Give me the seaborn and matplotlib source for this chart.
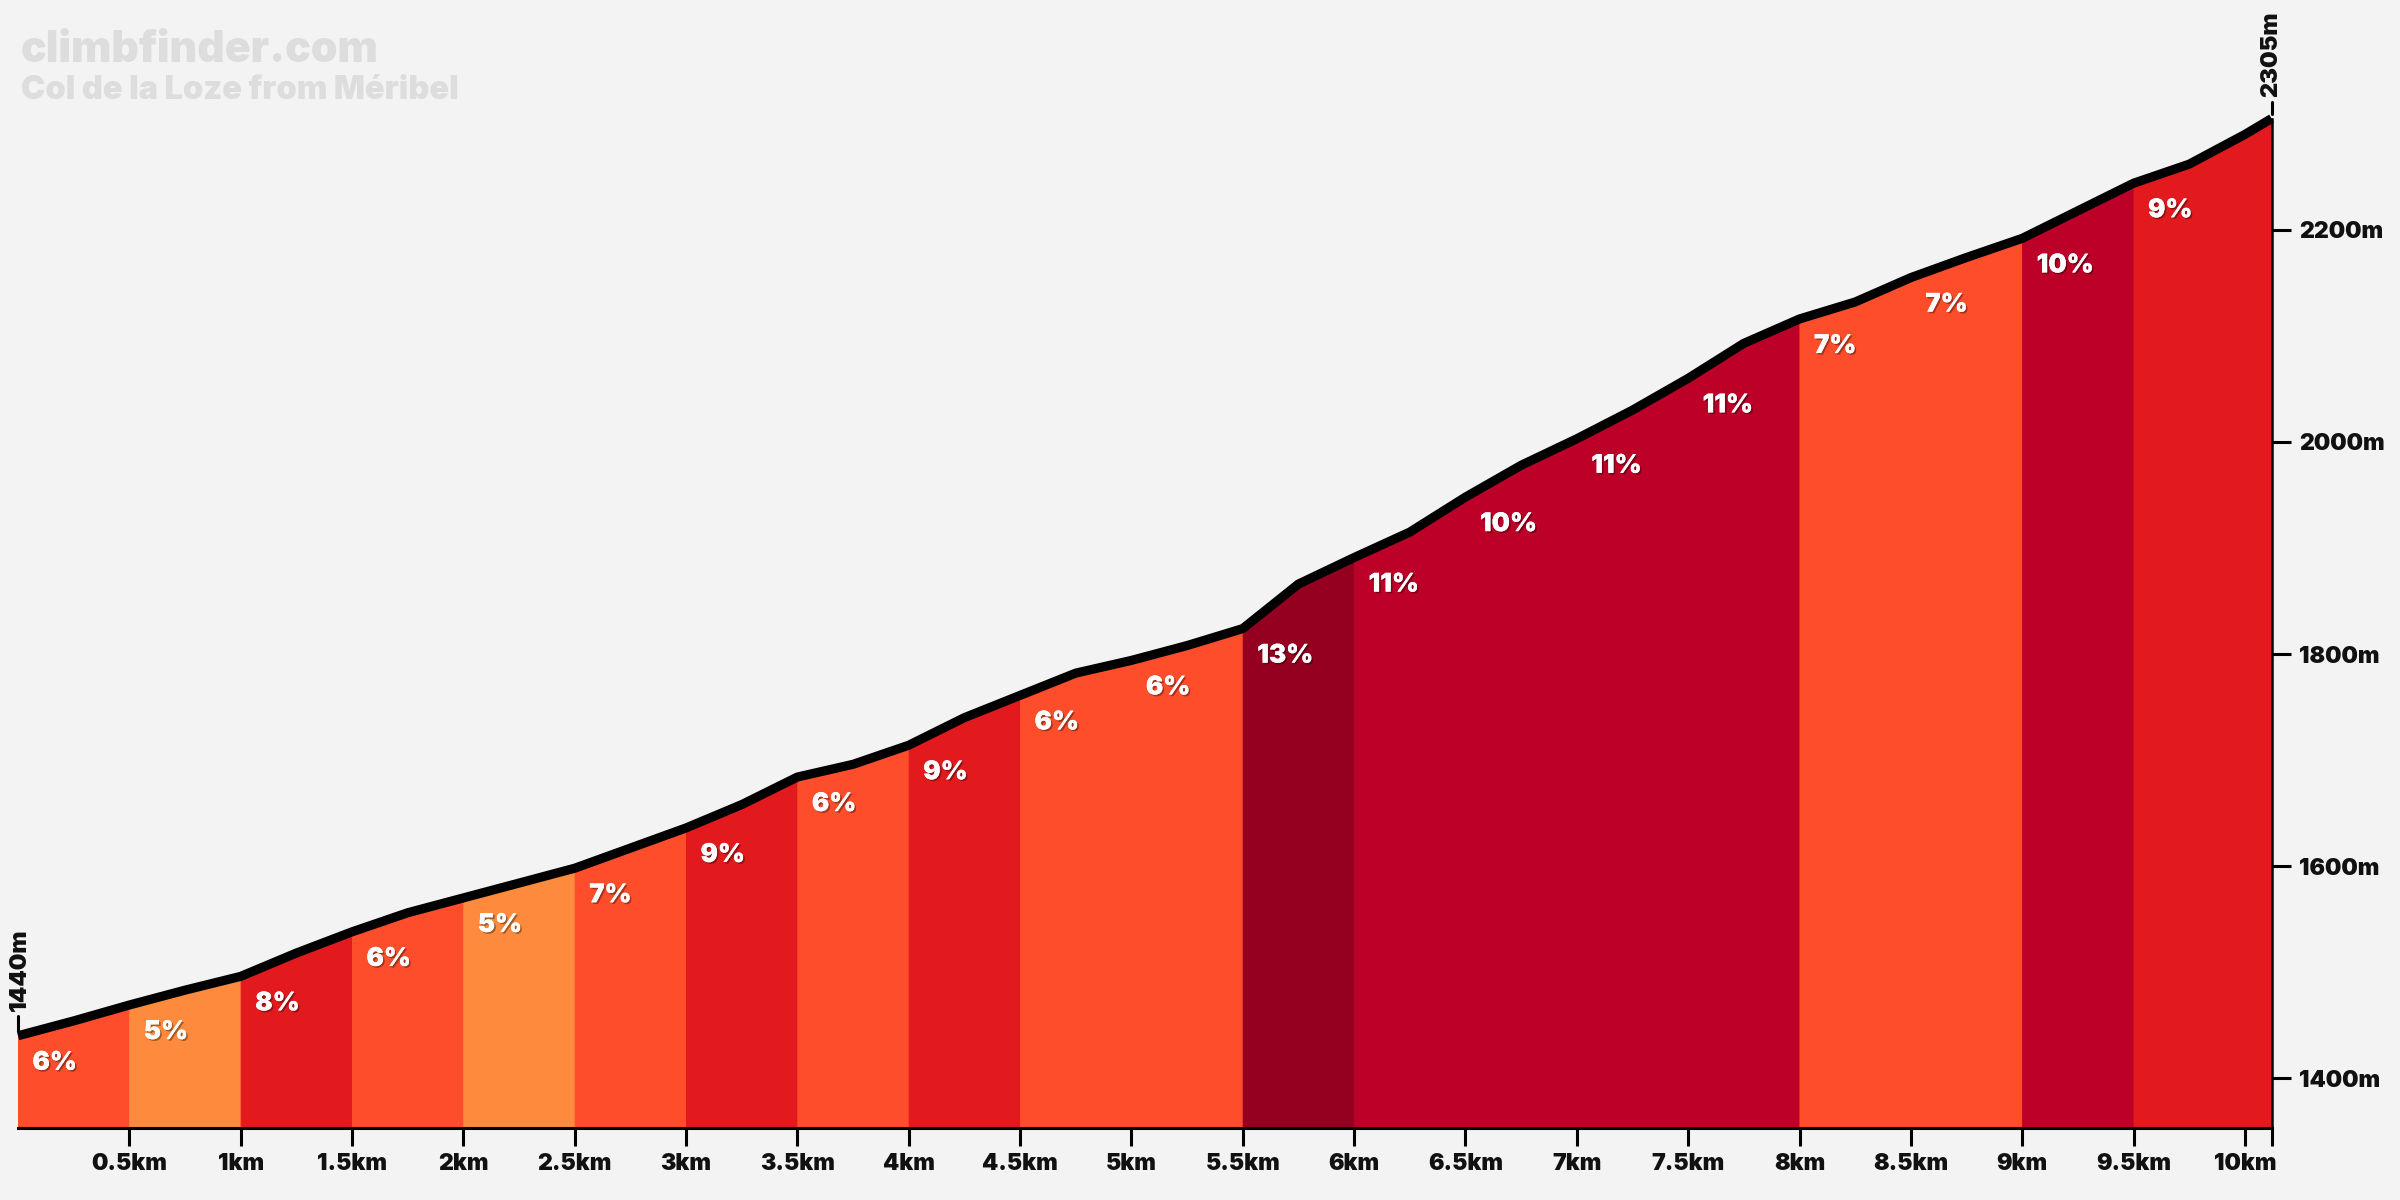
import numpy as np
import matplotlib
matplotlib.use("Agg")
import matplotlib.pyplot as plt
import matplotlib.patheffects as pe
import seaborn as sns

# Elevation profile (km, m)
distance_km = [0, 0.25, 0.5, 0.75, 1.0, 1.25, 1.5, 1.75, 2.0, 2.25, 2.5, 2.75,
               3.0, 3.25, 3.5, 3.75, 4.0, 4.25, 4.5, 4.75, 5.0, 5.25, 5.5, 5.75,
               6.0, 6.25, 6.5, 6.75, 7.0, 7.25, 7.5, 7.75, 8.0, 8.25, 8.5, 8.75,
               9.0, 9.25, 9.5, 9.75, 10.0, 10.12]
elevation_m = [1440, 1454, 1469, 1483, 1496, 1518, 1538, 1556, 1570, 1584, 1598, 1617,
               1636, 1658, 1684, 1696, 1714, 1740, 1761, 1782, 1794, 1808, 1824, 1866,
               1891, 1915, 1948, 1978, 2003, 2030, 2060, 2093, 2116, 2132, 2155, 2174,
               2192, 2218, 2244, 2262, 2290, 2305]

# Gradient of each 500 m stretch, as printed on the chart
seg_start_km = [0, 0.5, 1.0, 1.5, 2.0, 2.5, 3.0, 3.5, 4.0, 4.5,
                5.0, 5.5, 6.0, 6.5, 7.0, 7.5, 8.0, 8.5, 9.0, 9.5]
seg_end_km = seg_start_km[1:] + [10.12]
seg_grade = [6, 5, 8, 6, 5, 7, 9, 6, 9, 6, 6, 13, 11, 10, 11, 11, 7, 7, 10, 9]

x_ticks = [0.5, 1, 1.5, 2, 2.5, 3, 3.5, 4, 4.5, 5, 5.5, 6, 6.5, 7, 7.5, 8, 8.5, 9, 9.5, 10]
x_labels = ['0.5km', '1km', '1.5km', '2km', '2.5km', '3km', '3.5km', '4km', '4.5km', '5km',
            '5.5km', '6km', '6.5km', '7km', '7.5km', '8km', '8.5km', '9km', '9.5km', '10km']
y_ticks = [1400, 1600, 1800, 2000, 2200]
y_labels = ['1400m', '1600m', '1800m', '2000m', '2200m']

title = "climbfinder.com"
subtitle = "Col de la Loze from Méribel"


def grade_color(g):
    if g <= 5:
        return '#FE8B3D'
    if g <= 7:
        return '#FE4D2B'
    if g <= 9:
        return '#E21A1E'
    if g <= 12:
        return '#BC0027'
    return '#960020'


sns.set_theme(style="white")
plt.rcParams['font.family'] = ['Inter', 'Lato', 'DejaVu Sans']

bg = '#F3F3F3'
y_min, y_max = 1353, 2330
x_end = distance_km[-1]
wt = 'black'

fig = plt.figure(figsize=(12, 6), dpi=200, facecolor=bg)
ax = fig.add_axes([0.0075, 0.06, 0.939, 0.8633])
ax.set_facecolor(bg)

d = np.array(distance_km)
e = np.array(elevation_m)

# coloured stretches
for s, en, g in zip(seg_start_km, seg_end_km, seg_grade):
    m = (d >= s - 1e-9) & (d <= en + 1e-9)
    c = grade_color(g)
    ax.fill_between(d[m], y_min, e[m], color=c, edgecolor=c, linewidth=0.4, zorder=1)

# profile line
sns.lineplot(x=distance_km, y=elevation_m, color='black', linewidth=3.3, ax=ax,
             estimator=None, solid_capstyle='butt', solid_joinstyle='round', zorder=3)
for ln in ax.lines:
    ln.set_clip_on(False)

# gradient labels
shadow = [pe.withSimplePatchShadow(offset=(0.6, -0.6), shadow_rgbFace='black', alpha=0.35),
          pe.Normal()]
for s, g in zip(seg_start_km, seg_grade):
    y0 = np.interp(s, d, e)
    ax.text(s + 0.065, y0 - 26, f"{g}%", color='white', fontsize=9.3, fontweight=wt,
            ha='left', va='center', zorder=4, path_effects=shadow)

# start / finish markers
ax.plot([0, 0], [1445, 1459], color='black', linewidth=1.1, clip_on=False, zorder=5)
ax.text(0.01, 1463, f"{elevation_m[0]}m", rotation=90, ha='center', va='bottom',
        fontsize=8.5, fontweight=wt, color='#111111')
ax.plot([x_end, x_end], [2309, 2321], color='black', linewidth=1.1, clip_on=False, zorder=5)
ax.text(x_end, 2325, f"{elevation_m[-1]}m", rotation=90, ha='center', va='bottom',
        fontsize=8.5, fontweight=wt, color='#111111', clip_on=False)

ax.set_xlim(0, x_end)
ax.set_ylim(y_min, y_max)

ax.set_xticks(x_ticks + [x_end])
ax.set_xticklabels(x_labels + [''])
ax.yaxis.tick_right()
ax.set_yticks(y_ticks)
ax.set_yticklabels(y_labels)
ax.tick_params(axis='x', length=6.5, width=1.1, pad=2.5, labelsize=8.3, colors='black',
               bottom=True)
ax.tick_params(axis='y', length=6.8, width=1.1, pad=3, labelsize=8.3, colors='black',
               right=True, left=False)
for lab in ax.get_xticklabels() + ax.get_yticklabels():
    lab.set_fontweight(wt)
    lab.set_color('#111111')

for side in ['left', 'top']:
    ax.spines[side].set_visible(False)
ax.spines['bottom'].set_linewidth(1.1)
ax.spines['bottom'].set_color('black')
ax.spines['right'].set_linewidth(0.9)
ax.spines['right'].set_color('black')
ax.spines['right'].set_bounds(y_min, elevation_m[-1])
ax.grid(False)
ax.set_xlabel('')
ax.set_ylabel('')

fig.text(0.0088, 0.948, title, fontsize=15.4, fontweight=wt, color='#DDDDDD',
         ha='left', va='baseline')
fig.text(0.0088, 0.9175, subtitle, fontsize=11.7, fontweight=wt, color='#DDDDDD',
         ha='left', va='baseline')

fig.savefig('out.png', dpi=200, facecolor=bg)
